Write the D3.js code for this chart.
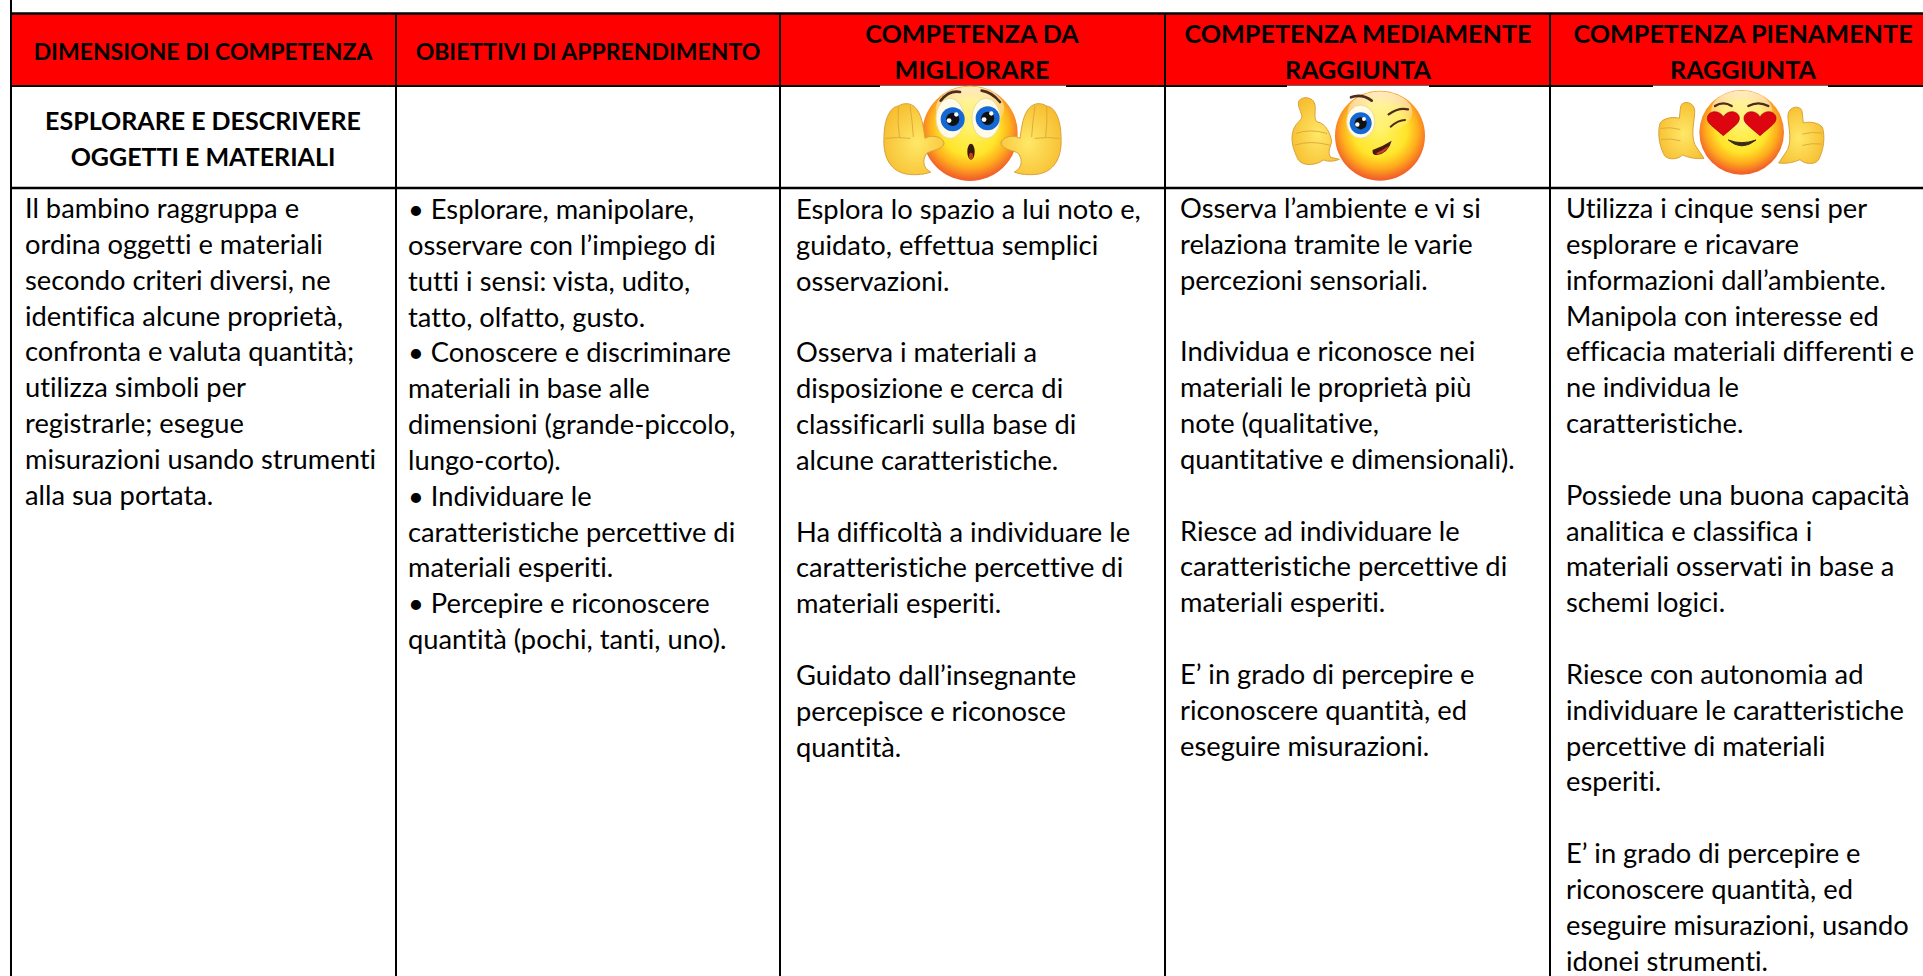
<!DOCTYPE html>
<html>
<head>
<meta charset="utf-8">
<script src="https://cdn.jsdelivr.net/npm/d3@7"></script>
<style>
    html, body { margin: 0; padding: 0; background: #fff; overflow: hidden; }
    text { font-family: Lato, "Open Sans", sans-serif; fill: #000; font-variant-ligatures: none; }
</style>
</head>
<body>
<script>
var columns = ["c1", "c2", "c3", "c4", "c5"];
var columnEdges = [11, 396, 780, 1165, 1550];
var columnTextX = [25, 408, 796, 1180, 1566];
var headerCenters = [203, 588, 972, 1358, 1743];

var headerLines = [
    ["DIMENSIONE DI COMPETENZA"],
    ["OBIETTIVI DI APPRENDIMENTO"],
    ["COMPETENZA DA", "MIGLIORARE"],
    ["COMPETENZA MEDIAMENTE", "RAGGIUNTA"],
    ["COMPETENZA PIENAMENTE", "RAGGIUNTA"]
];
var dimensionLines = ["ESPLORARE E DESCRIVERE", "OGGETTI E MATERIALI"];

var col1 = ["Il bambino raggruppa e", "ordina oggetti e materiali", "secondo criteri diversi, ne", "identifica alcune proprietà,", "confronta e valuta quantità;", "utilizza simboli per", "registrarle; esegue", "misurazioni usando strumenti", "alla sua portata."];
var col2 = ["• Esplorare, manipolare,", "osservare con l’impiego di", "tutti i sensi: vista, udito,", "tatto, olfatto, gusto.", "• Conoscere e discriminare", "materiali in base alle", "dimensioni (grande-piccolo,", "lungo-corto).", "• Individuare le", "caratteristiche percettive di", "materiali esperiti.", "• Percepire e riconoscere", "quantità (pochi, tanti, uno)."];
var col3 = ["Esplora lo spazio a lui noto e,", "guidato, effettua semplici", "osservazioni.", "", "Osserva i materiali a", "disposizione e cerca di", "classificarli sulla base di", "alcune caratteristiche.", "", "Ha difficoltà a individuare le", "caratteristiche percettive di", "materiali esperiti.", "", "Guidato dall’insegnante", "percepisce e riconosce", "quantità."];
var col4 = ["Osserva l’ambiente e vi si", "relaziona tramite le varie", "percezioni sensoriali.", "", "Individua e riconosce nei", "materiali le proprietà più", "note (qualitative,", "quantitative e dimensionali).", "", "Riesce ad individuare le", "caratteristiche percettive di", "materiali esperiti.", "", "E’ in grado di percepire e", "riconoscere quantità, ed", "eseguire misurazioni."];
var col5 = ["Utilizza i cinque sensi per", "esplorare e ricavare", "informazioni dall’ambiente.", "Manipola con interesse ed", "efficacia materiali differenti e", "ne individua le", "caratteristiche.", "", "Possiede una buona capacità", "analitica e classifica i", "materiali osservati in base a", "schemi logici.", "", "Riesce con autonomia ad", "individuare le caratteristiche", "percettive di materiali", "esperiti.", "", "E’ in grado di percepire e", "riconoscere quantità, ed", "eseguire misurazioni, usando", "idonei strumenti."];
var bodyColumns = [col1, col2, col3, col4, col5];

var w = 1923, h = 976;

var edgeX = d3.scaleOrdinal().domain(columns).range(columnEdges);
var textX = d3.scaleOrdinal().domain(columns).range(columnTextX);
var centerX = d3.scaleOrdinal().domain(columns).range(headerCenters);
var lineY = d3.scaleLinear().domain([0, 21]).range([218, 970.5]);

var svg = d3.select("body").append("svg")
    .attr("width", w)
    .attr("height", h)
    .style("display", "block");

var defs = svg.append("defs");
var faceGrad = defs.append("radialGradient").attr("id", "face").attr("cx", "50%").attr("cy", "44%").attr("r", "54%");
[["0%", "#fff36a"], ["55%", "#ffe52a"], ["78%", "#ffae1c"], ["100%", "#f2622a"]].forEach(function(s) {
    faceGrad.append("stop").attr("offset", s[0]).attr("stop-color", s[1]);
});
var shine = defs.append("linearGradient").attr("id", "shine").attr("x1", 0).attr("y1", 0).attr("x2", 0).attr("y2", 1);
shine.append("stop").attr("offset", "0%").attr("stop-color", "#fff").attr("stop-opacity", 0.75);
shine.append("stop").attr("offset", "100%").attr("stop-color", "#fff").attr("stop-opacity", 0);
var handGrad = defs.append("radialGradient").attr("id", "hand").attr("cx", "55%").attr("cy", "55%").attr("r", "65%");
handGrad.append("stop").attr("offset", "0%").attr("stop-color", "#ffe868");
handGrad.append("stop").attr("offset", "100%").attr("stop-color", "#f6bb2c");

// red header band
svg.append("rect").attr("x", 11).attr("y", 14).attr("width", w).attr("height", 71.5).attr("fill", "#ff0000");

// grid lines
var hLines = [13.5, 86, 188];
svg.selectAll(".hline").data(hLines).enter().append("line")
    .attr("class", "hline")
    .attr("x1", 10).attr("x2", w)
    .attr("y1", function(d) { return d; }).attr("y2", function(d) { return d; })
    .attr("stroke", "#000").attr("stroke-width", function(d, i) { return i == 1 ? 2 : 2.5; });
svg.selectAll(".vline").data(columns).enter().append("line")
    .attr("class", "vline")
    .attr("x1", function(d) { return edgeX(d); }).attr("x2", function(d) { return edgeX(d); })
    .attr("y1", function(d, i) { return i == 0 ? 0 : 13; }).attr("y2", h)
    .attr("stroke", "#000").attr("stroke-width", 2);

// the emoji pictures have a white box that cuts into the line under the header
[[880, 186], [1287, 142], [1653, 175]].forEach(function(b) {
    svg.append("rect").attr("x", b[0]).attr("y", 85.6).attr("width", b[1]).attr("height", 2).attr("fill", "#fff");
});

// header text
var head = svg.selectAll(".head").data(columns).enter().append("text")
    .attr("class", "head")
    .attr("text-anchor", "middle")
    .attr("font-weight", 700)
    .attr("font-size", function(d, i) { return i < 2 ? 23 : 25.2; });
head.selectAll("tspan").data(function(d, i) {
    return headerLines[i].map(function(t, k, all) {
        return { text: t, col: d, y: all.length == 1 ? 59.5 : 43 + k * 36 };
    });
}).enter().append("tspan")
    .attr("x", function(d) { return centerX(d.col); })
    .attr("y", function(d) { return d.y; })
    .text(function(d) { return d.text; });

// second row label
svg.selectAll(".dim").data(dimensionLines).enter().append("text")
    .attr("class", "dim")
    .attr("text-anchor", "middle")
    .attr("font-weight", 700)
    .attr("font-size", 25)
    .attr("x", centerX("c1"))
    .attr("y", function(d, i) { return 130 + i * 36; })
    .text(function(d) { return d; });

// body text
columns.forEach(function(c, i) {
    var rows = bodyColumns[i].map(function(t, k) { return { t: t, k: k }; }).filter(function(d) { return d.t != ""; });
    svg.selectAll(".b" + c).data(rows).enter().append("text")
        .attr("class", "b" + c)
        .attr("font-size", 27.3)
        .attr("x", textX(c))
        .attr("y", function(d) { return lineY(d.k) + (i == 1 || i == 2 ? 1 : 0); })
        .text(function(d) { return d.t; });
});

// emoji, drawn at 3x inside their own box
function emoji(x, y) {
    return svg.append("g").attr("transform", "translate(" + x + "," + y + ") scale(" + 1 / 3 + ")");
}
function face(g, cx, cy, r) {
    g.append("circle").attr("cx", cx).attr("cy", cy).attr("r", r).attr("fill", "url(#face)");
    g.append("ellipse").attr("cx", cx).attr("cy", cy - r * 0.52).attr("rx", r * 0.72).attr("ry", r * 0.46).attr("fill", "url(#shine)");
}
function stroke(g, d, w, color) {
    g.append("path").attr("d", d).attr("fill", "none").attr("stroke", color || "#4a2c18").attr("stroke-width", w).attr("stroke-linecap", "round");
}
function fill(g, d, color, line) {
    return g.append("path").attr("d", d).attr("fill", color).attr("stroke", line || "none").attr("stroke-width", 3).attr("stroke-linejoin", "round");
}
function eye(g, cx, cy, wx, wy) {
    g.append("ellipse").attr("cx", cx).attr("cy", cy).attr("rx", wx).attr("ry", wy).attr("fill", "#fffbe6").attr("stroke", "#e8dca0").attr("stroke-width", 3);
}
function iris(g, cx, cy, r) {
    g.append("circle").attr("cx", cx).attr("cy", cy).attr("r", r).attr("fill", "#1368d6");
    g.append("circle").attr("cx", cx).attr("cy", cy).attr("r", r * 0.55).attr("fill", "#111");
    g.append("circle").attr("cx", cx - r * 0.3).attr("cy", cy + r * 0.1).attr("r", r * 0.2).attr("fill", "#fff");
    g.append("circle").attr("cx", cx + r * 0.3).attr("cy", cy - r * 0.4).attr("r", r * 0.18).attr("fill", "#fff");
}

// 1: hands up
var e1 = emoji(860, 70);
face(e1, 330, 190, 143);
eye(e1, 270, 145, 42, 60);
eye(e1, 378, 145, 42, 60);
iris(e1, 278, 148, 36);
iris(e1, 383, 145, 36);
stroke(e1, "M242 92 Q268 60 300 66", 8);
stroke(e1, "M365 62 Q395 66 420 96", 8);
e1.append("ellipse").attr("cx", 333).attr("cy", 245).attr("rx", 11).attr("ry", 24).attr("fill", "#3a1a10");
e1.append("ellipse").attr("cx", 333).attr("cy", 258).attr("rx", 6).attr("ry", 10).attr("fill", "#c8401a");
var leftHand = "M130 310 C90 298 68 260 72 200 C72 160 85 112 115 108 C130 98 152 98 165 112 C185 130 190 170 195 205 C220 190 255 205 252 222 C245 240 215 240 200 250 C185 272 190 295 212 306 C190 316 150 316 130 310 Z";
fill(e1, leftHand, "url(#hand)", "#d9a23a");
stroke(e1, "M78 205 Q110 200 150 205 M115 110 Q112 160 118 200 M150 108 Q158 160 160 200", 2.5, "#d9a23a");
var rightHand = e1.append("g").attr("transform", "translate(675,0) scale(-1,1)");
fill(rightHand, leftHand, "url(#hand)", "#d9a23a");
stroke(rightHand, "M78 205 Q110 200 150 205 M115 110 Q112 160 118 200 M150 108 Q158 160 160 200", 2.5, "#d9a23a");

// 2: wink
var e2 = emoji(1270, 70);
face(e2, 330, 197, 135);
eye(e2, 272, 155, 42, 50);
iris(e2, 272, 160, 33);
stroke(e2, "M243 82 Q275 70 305 92", 8);
stroke(e2, "M356 133 Q385 112 414 118", 7);
stroke(e2, "M362 170 Q385 150 405 150", 6);
fill(e2, "M308 240 Q340 228 365 212 Q355 250 320 255 Q305 256 308 240 Z", "#4a1a10");
fill(e2, "M318 250 Q340 240 356 228 Q348 248 322 253 Z", "#d0402a");
fill(e2, "M85 100 C85 78 130 75 135 105 C138 125 130 140 140 155 C170 160 182 195 185 215 C180 235 172 245 182 262 L208 268 C190 275 175 275 160 270 C140 286 100 290 85 270 C70 240 60 210 70 180 C78 155 100 150 95 135 C90 120 85 110 85 100 Z", "url(#hand)", "#d9a23a");
stroke(e2, "M78 190 Q120 175 170 190 M76 225 Q120 210 178 225", 2.5, "#d9a23a");

// 3: heart eyes
var e3 = emoji(1600, 70);
face(e3, 425, 187, 127);
stroke(e3, "M345 108 Q370 92 395 108", 7);
stroke(e3, "M445 108 Q475 92 505 108", 7);
var heart = "M0 42 C-30 15 -50 5 -48 -12 C-46 -32 -15 -38 0 -15 C15 -38 46 -32 48 -12 C50 5 30 15 0 42 Z";
[370, 480].forEach(function(cx) {
    e3.append("path").attr("d", heart).attr("transform", "translate(" + cx + ",155)").attr("fill", "#dc0510").attr("stroke", "#a50010").attr("stroke-width", 2);
});
fill(e3, "M385 210 Q425 245 468 210 Q425 226 385 210 Z", "#3a2a18", "#3a2a18");
var thumbHand = "M242 110 C245 92 280 92 284 120 C286 145 270 190 285 225 L312 265 C285 268 265 262 248 255 C230 272 195 270 190 250 C178 225 172 190 180 160 C190 142 225 140 238 145 C240 130 240 120 242 110 Z";
fill(e3, thumbHand, "url(#hand)", "#d9a23a");
stroke(e3, "M182 175 Q210 170 240 178 M184 208 Q212 204 240 212", 2.5, "#d9a23a");
var thumbRight = e3.append("g").attr("transform", "translate(848,14) scale(-1,1)");
fill(thumbRight, thumbHand, "url(#hand)", "#d9a23a");
stroke(thumbRight, "M182 175 Q210 170 240 178 M184 208 Q212 204 240 212", 2.5, "#d9a23a");
</script>
</body>
</html>
